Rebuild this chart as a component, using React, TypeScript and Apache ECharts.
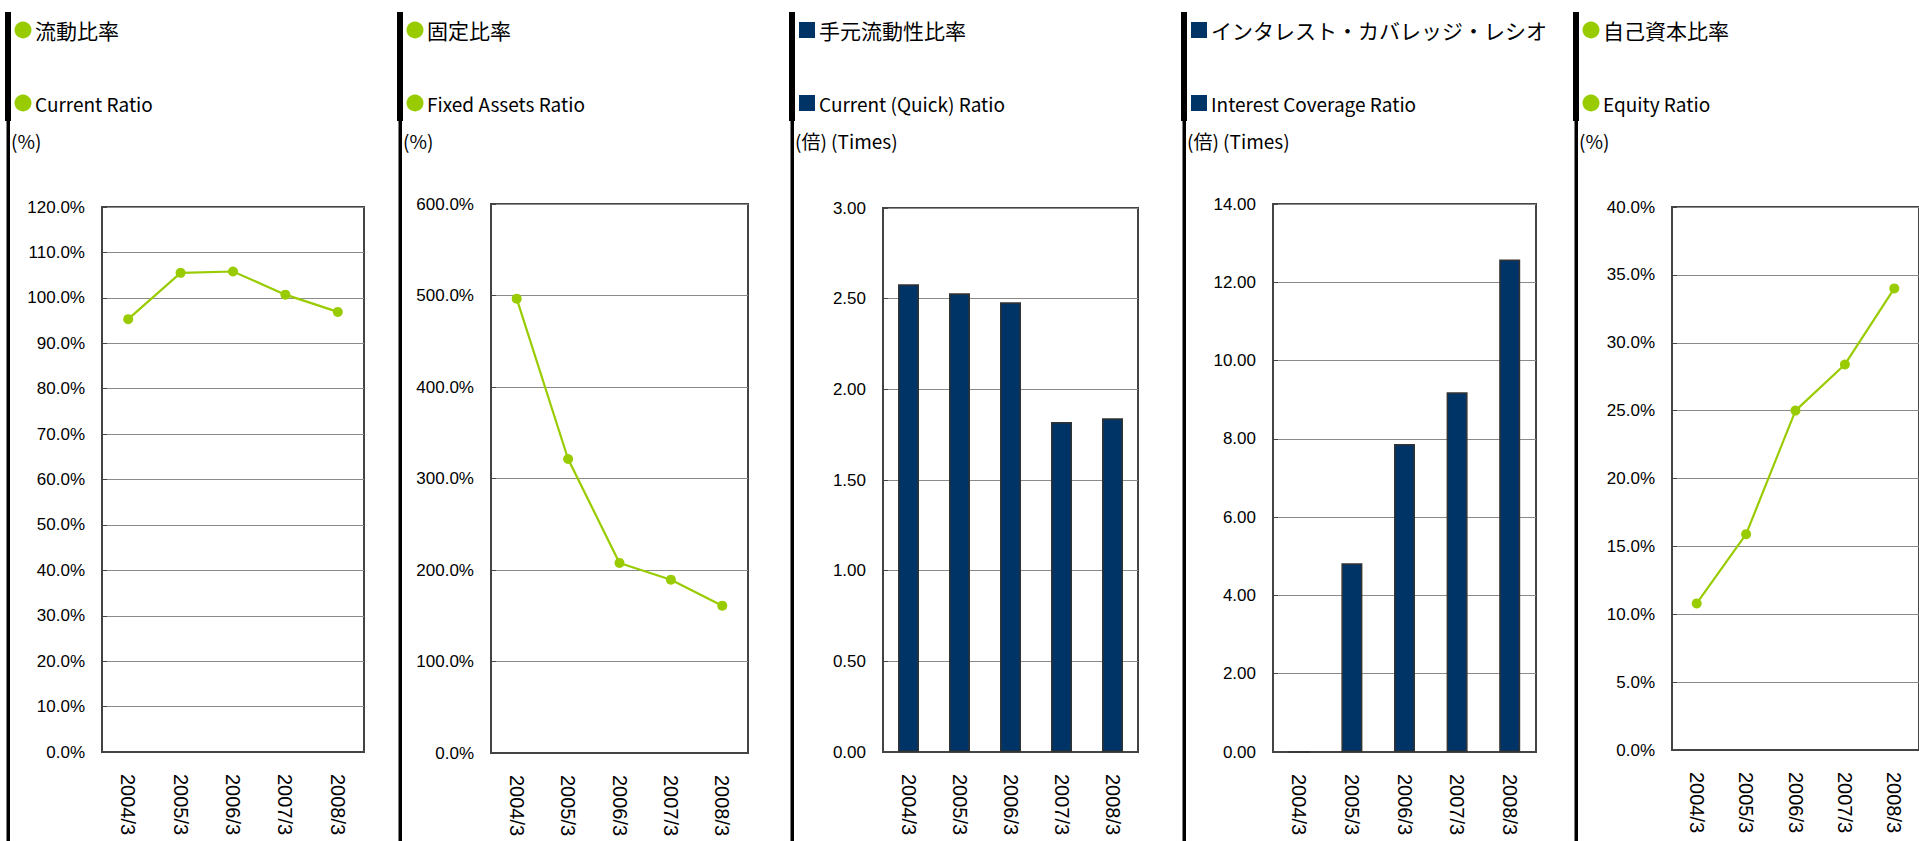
import React, { useEffect, useRef } from "react";
import * as echarts from "echarts";

const categories = ["2004/3", "2005/3", "2006/3", "2007/3", "2008/3"];
const currentRatio = [95.3, 105.5, 105.8, 100.7, 96.9];
const fixedAssetsRatio = [496.5, 321.3, 207.7, 189.4, 161.0];
const quickRatio = [2.58, 2.53, 2.48, 1.82, 1.84];
const interestCoverage = [0, 4.82, 7.87, 9.19, 12.58];
const equityRatio = [10.8, 15.9, 25.0, 28.4, 34.0];

const titlesJa = ["流動比率", "固定比率", "手元流動性比率", "インタレスト・カバレッジ・レシオ", "自己資本比率"];
const titlesEn = ["Current Ratio", "Fixed Assets Ratio", "Current (Quick) Ratio", "Interest Coverage Ratio", "Equity Ratio"];
const unitLabels = ["(%)", "(%)", "(倍) (Times)", "(倍) (Times)", "(%)"];
const markerKinds = ["circle", "circle", "square", "square", "circle"];
const seriesKinds = ["line", "line", "bar", "bar", "line"];
const seriesData = [currentRatio, fixedAssetsRatio, quickRatio, interestCoverage, equityRatio];
const axisMax = [120, 600, 3, 14, 40];
const axisInterval = [10, 100, 0.5, 2, 5];
const labelDecimals = [1, 1, 2, 2, 1];
const labelSuffix = ["%", "%", "", "", "%"];

const GREEN = "#99CC00";
const NAVY = "#003366";

const panelX = [6, 398, 790, 1182, 1574];
const gridRects = [
  { left: 102, top: 207, width: 262, height: 545 },
  { left: 491, top: 204, width: 257, height: 549 },
  { left: 883, top: 208, width: 255, height: 544 },
  { left: 1273, top: 204, width: 263, height: 548 },
  { left: 1672, top: 207, width: 256, height: 543 },
];

const NUM_FONT = "'Liberation Sans', Arial, sans-serif";
const JA_FONT = "'Noto Sans CJK JP', 'Noto Sans', sans-serif";

export default function App() {
  const ref = useRef<HTMLDivElement>(null);

  useEffect(() => {
    if (!ref.current) return;
    const chart = echarts.init(ref.current, null, { renderer: "svg" });

    const graphics: any[] = [];
    panelX.forEach((xs, i) => {
      graphics.push({ type: "rect", shape: { x: xs - 1, y: 12, width: 6, height: 109 }, style: { fill: "#000" } });
      graphics.push({ type: "rect", shape: { x: xs + 0.5, y: 121, width: 3.5, height: 720 }, style: { fill: "#000" } });
      const color = markerKinds[i] === "circle" ? GREEN : NAVY;
      [30, 103].forEach((cy) => {
        if (markerKinds[i] === "circle") {
          graphics.push({ type: "circle", shape: { cx: xs + 17, cy, r: 8.5 }, style: { fill: color } });
        } else {
          graphics.push({ type: "rect", shape: { x: xs + 9, y: cy - 8, width: 16, height: 16 }, style: { fill: color } });
        }
      });
      graphics.push({
        type: "text",
        x: xs + 29,
        y: 30,
        style: { text: titlesJa[i], fill: "#000", font: `21px ${JA_FONT}`, verticalAlign: "middle", align: "left" },
      });
      graphics.push({
        type: "text",
        x: xs + 29,
        y: 103,
        style: { text: titlesEn[i], fill: "#000", font: `19px ${JA_FONT}`, verticalAlign: "middle", align: "left" },
      });
      graphics.push({
        type: "text",
        x: xs + 5,
        y: 140,
        style: { text: unitLabels[i], fill: "#000", font: `19px ${JA_FONT}`, verticalAlign: "middle", align: "left" },
      });
    });

    const option: any = {
      animation: false,
      backgroundColor: "#fff",
      grid: gridRects.map((g) => ({
        ...g,
        show: true,
        borderColor: "#444",
        borderWidth: 2,
        backgroundColor: "transparent",
      })),
      xAxis: gridRects.map((_, i) => ({
        type: "category",
        gridIndex: i,
        data: categories,
        boundaryGap: true,
        axisLine: { show: true, lineStyle: { color: "#444", width: 2 } },
        axisTick: { show: false },
        axisLabel: {
          interval: 0,
          rotate: -90,
          margin: 22,
          fontSize: 20,
          color: "#000",
          fontFamily: NUM_FONT,
        },
        splitLine: { show: false },
      })),
      yAxis: gridRects.map((_, i) => ({
        type: "value",
        gridIndex: i,
        min: 0,
        max: axisMax[i],
        interval: axisInterval[i],
        axisLine: { show: true, lineStyle: { color: "#444", width: 2 } },
        axisTick: { show: true, inside: true, length: 5, lineStyle: { color: "#444", width: 1 } },
        axisLabel: {
          margin: 17,
          fontSize: 17,
          color: "#000",
          fontFamily: NUM_FONT,
          formatter: (v: number) => v.toFixed(labelDecimals[i]) + labelSuffix[i],
        },
        splitLine: { show: true, lineStyle: { color: "#8a8a8a", width: 1 } },
      })),
      series: seriesData.map((d, i) =>
        seriesKinds[i] === "line"
          ? {
              type: "line",
              xAxisIndex: i,
              yAxisIndex: i,
              data: d,
              symbol: "circle",
              symbolSize: 10,
              lineStyle: { color: GREEN, width: 2.2 },
              itemStyle: { color: GREEN },
              z: 3,
            }
          : {
              type: "bar",
              xAxisIndex: i,
              yAxisIndex: i,
              data: d,
              barWidth: 21,
              itemStyle: { color: NAVY, borderColor: "#333", borderWidth: 1.5 },
            }
      ),
      graphic: graphics,
    };

    chart.setOption(option);
    return () => chart.dispose();
  }, []);

  return (
    <div
      ref={ref}
      style={{ position: "absolute", left: 0, top: 0, width: 1919, height: 841, overflow: "hidden" }}
    />
  );
}
